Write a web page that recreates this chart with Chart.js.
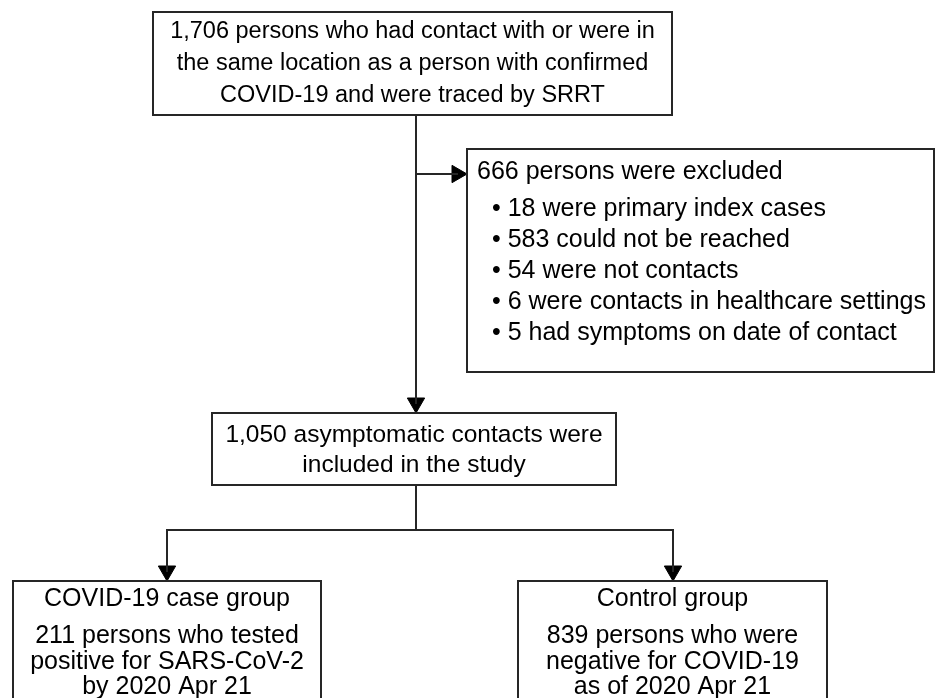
<!DOCTYPE html>
<html>
<head>
<meta charset="utf-8">
<title>Contact tracing flow</title>
<script src="https://cdn.jsdelivr.net/npm/chart.js@4"></script>
<style>
  html, body { margin: 0; padding: 0; background: #fff; }
  canvas { display: block; }
</style>
</head>
<body>
<canvas id="flowChart" width="936" height="698"></canvas>
<script>
'use strict';

// data
const tracedCount = 1706;
const excludedCount = 666;
const exclusionCounts = [18, 583, 54, 6, 5];
const exclusionReasons = [
  'were primary index cases',
  'could not be reached',
  'were not contacts',
  'were contacts in healthcare settings',
  'had symptoms on date of contact'
];
const includedCount = 1050;
const groupNames = ['COVID-19 case group', 'Control group'];
const groupCounts = [211, 839];

function fmt(n) {
  return n.toLocaleString('en-US');
}

// box texts built from the numbers
const topLines = [
  fmt(tracedCount) + ' persons who had contact with or were in',
  'the same location as a person with confirmed',
  'COVID-19 and were traced by SRRT'
];
const excludedLines = [fmt(excludedCount) + ' persons were excluded'];
for (let i = 0; i < exclusionCounts.length; i++) {
  excludedLines.push('\u2022 ' + exclusionCounts[i] + ' ' + exclusionReasons[i]);
}
const includedLines = [
  fmt(includedCount) + ' asymptomatic contacts were',
  'included in the study'
];
const caseLines = [
  groupNames[0],
  fmt(groupCounts[0]) + ' persons who tested',
  'positive for SARS-CoV-2',
  'by 2020 Apr 21'
];
const controlLines = [
  groupNames[1],
  fmt(groupCounts[1]) + ' persons who were',
  'negative for COVID-19',
  'as of 2020 Apr 21'
];

// layout (page units, y grows downwards)
const boxes = {
  top: { x0: 153, x1: 672, y0: 12, y1: 115, lines: topLines, lineY: [32, 64, 96], align: 'center', size: 23.5 },
  excl: { x0: 467, x1: 934, y0: 149, y1: 372, lines: excludedLines, lineY: [172, 209, 240, 271, 302, 333], align: 'left', textX: [477, 492], size: 25 },
  mid: { x0: 212, x1: 616, y0: 413, y1: 485, lines: includedLines, lineY: [435, 465], align: 'center', size: 24.5 },
  caseBox: { x0: 13, x1: 321, y0: 581, y1: 730, lines: caseLines, lineY: [599, 636, 662, 687], align: 'center', size: 25 },
  control: { x0: 518, x1: 827, y0: 581, y1: 730, lines: controlLines, lineY: [599, 636, 662, 687], align: 'center', size: 25 }
};

const mainX = 416;
const excludeY = 174;
const splitY = 530;
const caseX = 167;
const controlX = 673;
const arrowR = 10;

const lineColor = '#262626';

function rectPoints(b) {
  return [
    { x: b.x0, y: b.y0 }, { x: b.x1, y: b.y0 },
    { x: b.x1, y: b.y1 }, { x: b.x0, y: b.y1 }, { x: b.x0, y: b.y0 }
  ];
}

function lineSet(points) {
  return {
    data: points,
    showLine: true,
    borderColor: lineColor,
    borderWidth: 2,
    pointRadius: 0,
    borderCapStyle: 'square',
    borderJoinStyle: 'miter',
    tension: 0,
    clip: false
  };
}

const datasets = [];
for (let key in boxes) {
  datasets.push(lineSet(rectPoints(boxes[key])));
}
// connectors
datasets.push(lineSet([{ x: mainX, y: boxes.top.y1 }, { x: mainX, y: boxes.mid.y0 - arrowR }]));
datasets.push(lineSet([{ x: mainX, y: excludeY }, { x: boxes.excl.x0 - arrowR, y: excludeY }]));
datasets.push(lineSet([{ x: mainX, y: boxes.mid.y1 }, { x: mainX, y: splitY }]));
datasets.push(lineSet([{ x: caseX, y: splitY }, { x: controlX, y: splitY }]));
datasets.push(lineSet([{ x: caseX, y: splitY }, { x: caseX, y: boxes.caseBox.y0 - arrowR }]));
datasets.push(lineSet([{ x: controlX, y: splitY }, { x: controlX, y: boxes.control.y0 - arrowR }]));

// arrow heads
datasets.push({
  data: [
    { x: mainX, y: boxes.mid.y0 - arrowR },
    { x: caseX, y: boxes.caseBox.y0 - arrowR },
    { x: controlX, y: boxes.control.y0 - arrowR }
  ],
  showLine: false,
  pointStyle: 'triangle',
  rotation: 180,
  pointRadius: arrowR,
  backgroundColor: '#000',
  borderColor: '#000',
  borderWidth: 1,
  clip: false
});
datasets.push({
  data: [{ x: boxes.excl.x0 - arrowR, y: excludeY }],
  showLine: false,
  pointStyle: 'triangle',
  rotation: 90,
  pointRadius: arrowR,
  backgroundColor: '#000',
  borderColor: '#000',
  borderWidth: 1,
  clip: false
});

const whiteBg = {
  id: 'whiteBg',
  beforeDraw(chart) {
    const c = chart.ctx;
    c.save();
    c.fillStyle = '#fff';
    c.fillRect(0, 0, chart.width, chart.height);
    c.restore();
  }
};

const boxText = {
  id: 'boxText',
  afterDatasetsDraw(chart) {
    const c = chart.ctx;
    const xs = chart.scales.x;
    const ys = chart.scales.y;
    c.save();
    c.fillStyle = '#000';
    c.textBaseline = 'middle';
    for (let key in boxes) {
      const b = boxes[key];
      c.font = b.size + 'px "Liberation Sans", Arial, sans-serif';
      b.lines.forEach(function (txt, i) {
        const py = ys.getPixelForValue(b.lineY[i]);
        if (b.align === 'center') {
          c.textAlign = 'center';
          c.fillText(txt, xs.getPixelForValue((b.x0 + b.x1) / 2), py);
        } else {
          c.textAlign = 'left';
          const tx = i === 0 ? b.textX[0] : b.textX[1];
          c.fillText(txt, xs.getPixelForValue(tx), py);
        }
      });
    }
    c.restore();
  }
};

new Chart(document.getElementById('flowChart'), {
  type: 'scatter',
  data: { datasets: datasets },
  options: {
    responsive: false,
    animation: false,
    layout: { padding: 0, autoPadding: false },
    plugins: {
      legend: { display: false },
      tooltip: { enabled: false }
    },
    scales: {
      x: { type: 'linear', min: 0, max: 936, display: false },
      y: { type: 'linear', min: 0, max: 698, reverse: true, display: false }
    }
  },
  plugins: [whiteBg, boxText]
});
</script>
</body>
</html>
